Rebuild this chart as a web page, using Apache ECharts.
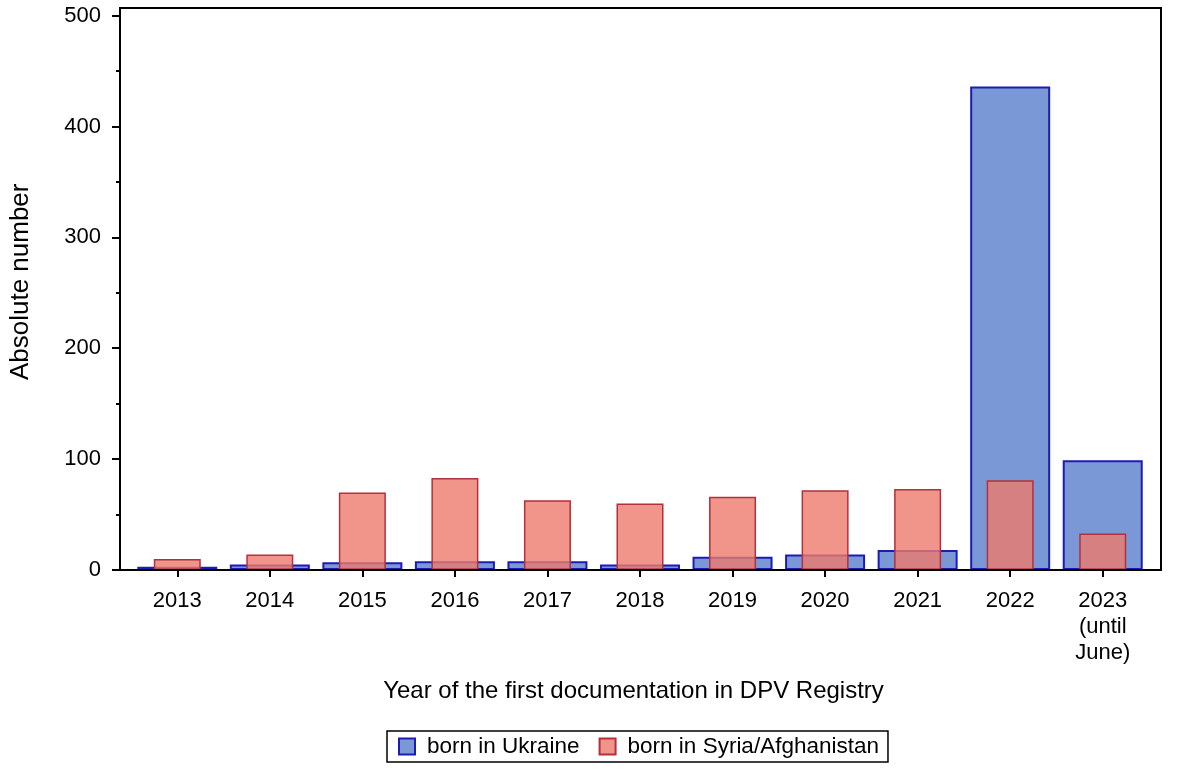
<!DOCTYPE html>
<html>
<head>
<meta charset="utf-8">
<script src="https://cdn.jsdelivr.net/npm/echarts@6/dist/echarts.min.js"></script>
<style>
  html, body { margin: 0; padding: 0; background: #fff; }
  #main { width: 1181px; height: 779px; }
</style>
</head>
<body>
<div id="main"></div>
<script>
const years = ["2013", "2014", "2015", "2016", "2017", "2018", "2019", "2020", "2021", "2022", "2023\n(until\nJune)"];
const ukraine = [3, 5, 7, 8, 8, 5, 12, 14, 18, 436, 99];
const syriaAfghanistan = [10, 14, 70, 83, 63, 60, 66, 72, 73, 81, 33];
const yTicks = [0, 100, 200, 300, 400, 500];

const font = "'Liberation Sans', Arial, sans-serif";
const chart = echarts.init(document.getElementById("main"));

const option = {
    animation: false,
    textStyle: { fontFamily: font, color: "#000" },
    grid: { left: 131, right: 32, top: 15.6, bottom: 209 },
    legend: {
        left: 387,
        top: 731,
        orient: "horizontal",
        borderColor: "#000",
        borderWidth: 1.5,
        padding: [4, 9, 4, 11],
        itemGap: 19,
        itemWidth: 16,
        itemHeight: 16,
        icon: "rect",
        textStyle: { fontSize: 22.5, fontFamily: font, color: "#000", padding: [0, 0, 0, 7] },
        data: ["born in Ukraine", "born in Syria/Afghanistan"],
    },
    xAxis: [
        {
            type: "category",
            data: years,
            name: "Year of the first documentation in DPV Registry",
            nameLocation: "middle",
            nameGap: 109,
            nameTextStyle: { fontSize: 24, fontFamily: font, color: "#000", padding: [0, 13, 0, 0] },
            axisLine: { show: false },
            axisTick: { show: true, alignWithLabel: true, length: 7, lineStyle: { color: "#000", width: 2 } },
            axisLabel: { fontSize: 22, margin: 18, lineHeight: 26, color: "#000", fontFamily: font },
        },
        {
            type: "category",
            data: years,
            show: false,
        },
    ],
    yAxis: {
        type: "value",
        min: 0,
        max: 500,
        interval: 100,
        offset: 11,
        name: "Absolute number",
        nameLocation: "middle",
        nameGap: 86,
        nameTextStyle: { fontSize: 26, fontFamily: font, color: "#000", padding: [0, 0, 0, 22] },
        axisLine: { show: false },
        axisTick: { show: true, length: 8, lineStyle: { color: "#000", width: 2 } },
        minorTick: { show: true, splitNumber: 2, length: 4, lineStyle: { color: "#000", width: 2 } },
        splitLine: { show: false },
        axisLabel: {
            fontSize: 22,
            margin: 19,
            color: "#000",
            fontFamily: font,
            formatter: (v) => (yTicks.includes(v) ? String(v) : ""),
        },
    },
    series: [
        {
            name: "born in Ukraine",
            type: "bar",
            xAxisIndex: 0,
            barWidth: 80,
            data: ukraine,
            itemStyle: { color: "#7b98d6", borderColor: "#1c1cb4", borderWidth: 2 },
            z: 2,
        },
        {
            name: "born in Syria/Afghanistan",
            type: "bar",
            xAxisIndex: 1,
            barWidth: 47,
            data: syriaAfghanistan,
            itemStyle: { color: "rgba(237,122,109,0.8)", borderColor: "#b3303c", borderWidth: 1.5 },
            z: 3,
        },
    ],
    graphic: [
        {
            type: "rect",
            z: 100,
            silent: true,
            shape: { x: 120, y: 8, width: 1041, height: 562 },
            style: { fill: "none", stroke: "#000", lineWidth: 2 },
        },
    ],
};

chart.setOption(option);
</script>
</body>
</html>
